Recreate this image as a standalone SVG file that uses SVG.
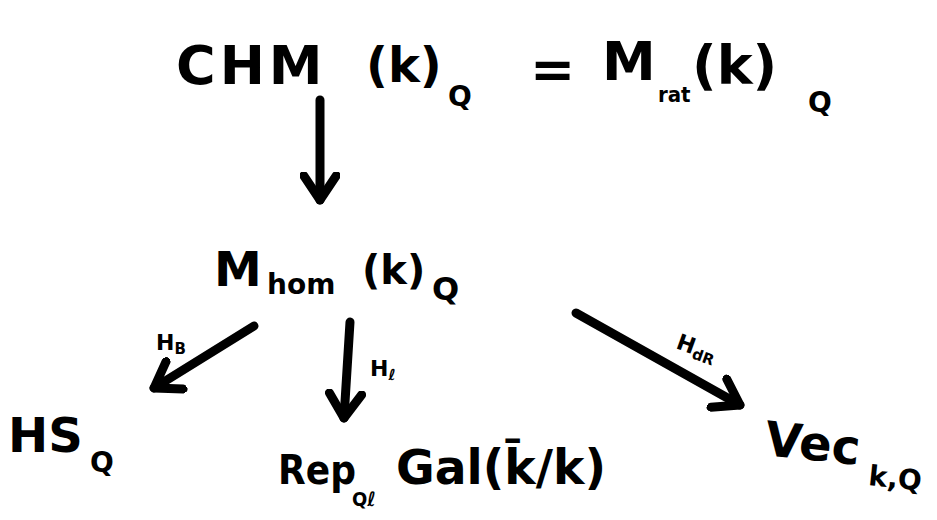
<svg xmlns="http://www.w3.org/2000/svg" width="937" height="520" viewBox="0 0 937 520">
<defs>
<style>
.t{font-family:"DejaVu Sans",sans-serif;font-weight:bold;fill:#000}
.c{font-family:"DejaVu Sans Condensed","DejaVu Sans",sans-serif}
.big{font-size:54px}
.mid{font-size:48px}
.sub{font-size:28px}
.lab{font-size:22px}
.arr{stroke:#000;stroke-width:9;stroke-linecap:round;stroke-linejoin:round;fill:none}
</style>
<marker id="ah" viewBox="0 0 10 10" refX="7" refY="5" markerWidth="4.5" markerHeight="4.5" orient="auto" markerUnits="strokeWidth">
<path d="M1,1 L7,5 L1,9" fill="none" stroke="#000" stroke-width="2.2" stroke-linecap="round" stroke-linejoin="round"/>
</marker>
</defs>
<rect width="937" height="520" fill="#fff"/>
<g id="chm">
<text class="t big"><tspan x="176" y="84" letter-spacing="4">CHM</tspan><tspan font-size="48" x="366" y="82">(k)</tspan><tspan class="sub" x="448" y="106">Q</tspan></text>
</g>
<g id="eq"><text class="t big" x="530" y="88">=</text></g>
<g id="mrat">
<text class="t big"><tspan x="602" y="80">M</tspan><tspan class="c" font-size="22" x="658" y="102">rat</tspan><tspan x="692" y="84">(k)</tspan><tspan class="sub" x="808" y="112">Q</tspan></text>
</g>
<g id="mhom">
<text class="t mid"><tspan x="214" y="286">M</tspan><tspan class="sub" x="267" y="294">hom</tspan><tspan font-size="40" x="362" y="284">(k)</tspan><tspan font-size="32" x="432" y="300">Q</tspan></text>
</g>
<g id="hs">
<text class="t mid"><tspan x="8" y="452">HS</tspan><tspan class="sub" x="90" y="472">Q</tspan></text>
</g>
<g id="rep">
<text class="t mid"><tspan class="c" font-size="40" x="278" y="484">Rep</tspan><tspan class="c" font-size="20" x="352" y="506">Qℓ</tspan><tspan x="396" y="484" textLength="210" lengthAdjust="spacingAndGlyphs">Gal(k̄/k)</tspan></text>
</g>
<g id="vec" transform="rotate(6 765 440)">
<text class="t mid"><tspan x="765" y="455">Vec</tspan><tspan class="sub" x="872" y="474">k,Q</tspan></text>
</g>
<g id="connectors">
<line class="arr" x1="320" y1="100" x2="320" y2="200" marker-end="url(#ah)"/>
<line class="arr" x1="254" y1="326" x2="154" y2="388" marker-end="url(#ah)"/>
<line class="arr" x1="350" y1="322" x2="344" y2="418" marker-end="url(#ah)"/>
<line class="arr" x1="576" y1="313" x2="740" y2="405" marker-end="url(#ah)"/>
<text class="t lab" x="156" y="350">H<tspan font-size="15" dy="4">B</tspan></text>
<text class="t lab" x="370" y="376">H<tspan font-size="15" dy="4">ℓ</tspan></text>
<text class="t lab" x="675" y="348" transform="rotate(20 675 348)">H<tspan font-size="15" dy="4">dR</tspan></text>
</g>
</svg>
